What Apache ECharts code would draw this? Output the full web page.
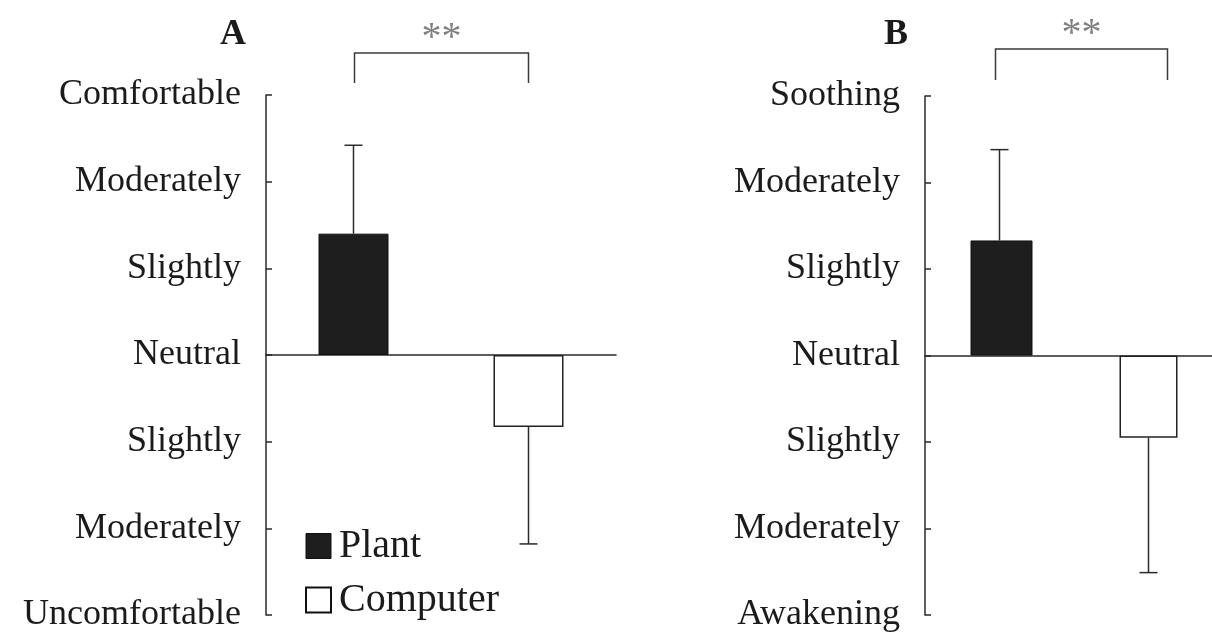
<!DOCTYPE html>
<html><head><meta charset="utf-8">
<script src="https://cdn.jsdelivr.net/npm/echarts@6/dist/echarts.min.js"></script>
<style>html,body{margin:0;padding:0;background:#fff}#c{width:1212px;height:634px}</style>
</head><body><div id="c"></div>
<script>
const categories = ['Plant', 'Computer'];
const meanA = [1.40, -0.83];
const sdA = [1.02, 1.35];
const meanB = [1.33, -0.95];
const sdB = [1.05, 1.56];
const labelsA = ['Uncomfortable', 'Moderately', 'Slightly', 'Neutral', 'Slightly', 'Moderately', 'Comfortable'];
const labelsB = ['Awakening', 'Moderately', 'Slightly', 'Neutral', 'Slightly', 'Moderately', 'Soothing'];
const panelTitles = ['A', 'B'];
const sigText = '**';

const FONT = '"Liberation Serif", "DejaVu Serif", serif';
const INK = '#1b1b1b';

function errData(mean, sd) {
  return mean.map((m, i) => [i, m, m >= 0 ? m + sd[i] : m - sd[i]]);
}
function errRender(params, api) {
  const p1 = api.coord([api.value(0), api.value(1)]);
  const p2 = api.coord([api.value(0), api.value(2)]);
  const cap = 9;
  const st = { stroke: '#2a2a2a', lineWidth: 1.5 };
  return { type: 'group', children: [
    { type: 'line', shape: { x1: p1[0], y1: p1[1], x2: p2[0], y2: p2[1] }, style: st },
    { type: 'line', shape: { x1: p2[0] - cap, y1: p2[1], x2: p2[0] + cap, y2: p2[1] }, style: st }
  ]};
}
function bracketRender(dl, dr, up, drop) {
  return function (params, api) {
    const a = api.coord([0, 3]);
    const b = api.coord([1, 3]);
    const yTop = a[1] - up, yEnd = a[1] - drop;
    const xl = a[0] + dl, xr = b[0] + dr;
    const st = { stroke: '#3a3a3a', lineWidth: 1.5, fill: null };
    return { type: 'group', children: [
      { type: 'polyline', shape: { points: [[xl, yEnd], [xl, yTop], [xr, yTop], [xr, yEnd]] }, style: st },
      { type: 'text', style: { text: sigText, x: (xl + xr) / 2, y: yTop + 5, align: 'center', verticalAlign: 'bottom',
        font: '40px ' + FONT, fill: '#808080' } }
    ]};
  };
}
function yAxis(idx, labels) {
  return {
    type: 'value', gridIndex: idx, min: -3, max: 3, interval: 1,
    axisLine: { show: true, lineStyle: { color: '#2a2a2a', width: 1.5 } },
    axisTick: { show: true, inside: true, length: 6, lineStyle: { color: '#2a2a2a', width: 1.5 } },
    splitLine: { show: false },
    axisLabel: { margin: 25, fontFamily: FONT, fontSize: 36, color: INK,
      formatter: v => labels[Math.round(v) + 3] }
  };
}
function xAxis(idx) {
  return {
    type: 'category', gridIndex: idx, data: categories,
    axisLine: { show: true, onZero: true, lineStyle: { color: '#2a2a2a', width: 1.5 } },
    axisTick: { show: false }, axisLabel: { show: false }
  };
}
function bars(idx, mean, wPlant, wComp) {
  return [
    { type: 'bar', name: 'Plant', xAxisIndex: idx, yAxisIndex: idx, barWidth: wPlant, barGap: '-100%',
      data: [mean[0], '-'], itemStyle: { color: '#1e1e1e', borderColor: '#111', borderWidth: 1 } },
    { type: 'bar', name: 'Computer', xAxisIndex: idx, yAxisIndex: idx, barWidth: wComp, barGap: '-100%',
      data: ['-', mean[1]], itemStyle: { color: '#fff', borderColor: '#222', borderWidth: 1.5 } }
  ];
}

const chart = echarts.init(document.getElementById('c'), null, { renderer: 'canvas' });
chart.setOption({
  backgroundColor: '#fff',
  animation: false,
  title: [
    { text: panelTitles[0], left: 215, top: 12, textStyle: { fontFamily: FONT, fontSize: 36, fontWeight: 'bold', color: INK } },
    { text: panelTitles[1], left: 879, top: 12, textStyle: { fontFamily: FONT, fontSize: 36, fontWeight: 'bold', color: INK } }
  ],
  legend: {
    orient: 'vertical', left: 300, top: 521, itemWidth: 25, itemHeight: 25, itemGap: 14,
    textStyle: { fontFamily: FONT, fontSize: 40, color: INK, padding: [0, 0, 0, 3] },
    data: [
      { name: 'Plant', icon: 'rect', itemStyle: { color: '#1e1e1e', borderColor: '#111', borderWidth: 1 } },
      { name: 'Computer', icon: 'rect', itemStyle: { color: '#fff', borderColor: '#111', borderWidth: 2 } }
    ]
  },
  grid: [
    { left: 266, top: 95, width: 350, height: 520, outerBoundsMode: 'none' },
    { left: 925, top: 96, width: 298, height: 519, outerBoundsMode: 'none' }
  ],
  xAxis: [xAxis(0), xAxis(1)],
  yAxis: [yAxis(0, labelsA), yAxis(1, labelsB)],
  series: [
    ...bars(0, meanA, 70, 70),
    ...bars(1, meanB, 62, 58),
    { type: 'custom', xAxisIndex: 0, yAxisIndex: 0, data: errData(meanA, sdA), renderItem: errRender, z: 5 },
    { type: 'custom', xAxisIndex: 1, yAxisIndex: 1, data: errData(meanB, sdB), renderItem: errRender, z: 5 },
    { type: 'custom', xAxisIndex: 0, yAxisIndex: 0, data: [[0]], renderItem: bracketRender(1, 0, 42, 12), clip: false },
    { type: 'custom', xAxisIndex: 1, yAxisIndex: 1, data: [[0]], renderItem: bracketRender(-4, 19, 47, 16), clip: false }
  ]
});
</script></body></html>
